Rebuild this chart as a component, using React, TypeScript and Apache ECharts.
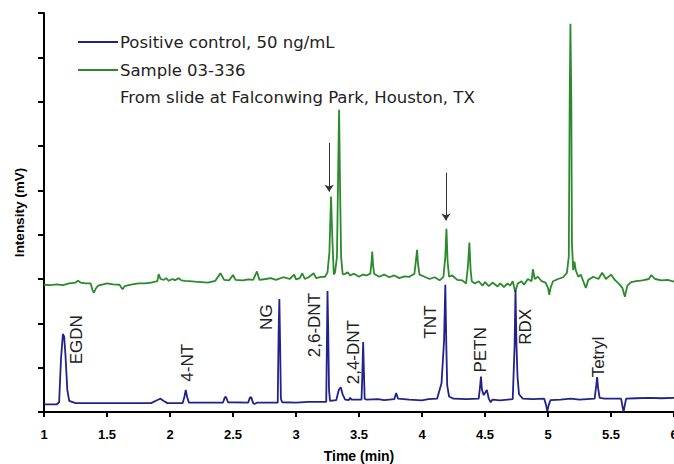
import React, { useEffect, useRef } from "react";
import * as echarts from "echarts";

const xTicks = { min: 1, max: 6, interval: 0.5 };
const yRange = { min: 0, max: 9, interval: 1 };

const seriesNames = ["Positive control, 50 ng/mL", "Sample 03-336"];
const subtitle = "From slide at Falconwing Park, Houston, TX";

// Positive control chromatogram [time (min), intensity]
const controlTrace: number[][] = [
  [1.0, 0.17], [1.1, 0.17], [1.12, 0.22], [1.135, 1.2], [1.15, 1.76], [1.16, 1.7], [1.17, 1.3], [1.185, 0.5], [1.2, 0.25],
  [1.25, 0.2], [1.5, 0.2], [1.85, 0.2], [1.9, 0.27], [1.925, 0.3], [1.95, 0.25], [1.98, 0.2], [2.1, 0.2],
  [2.115, 0.35], [2.125, 0.5], [2.135, 0.35], [2.15, 0.21], [2.42, 0.21], [2.435, 0.33], [2.445, 0.34], [2.46, 0.22],
  [2.62, 0.21], [2.635, 0.33], [2.645, 0.33], [2.66, 0.2], [2.67, 0.18], [2.69, 0.21], [2.855, 0.21], [2.862, 1.8],
  [2.868, 2.55], [2.874, 1.5], [2.88, 0.3], [2.89, 0.22], [3.0, 0.21], [3.1, 0.23], [3.24, 0.23], [3.245, 1.5], [3.25, 2.73],
  [3.256, 1.8], [3.262, 0.5], [3.27, 0.25], [3.32, 0.27], [3.34, 0.5], [3.355, 0.56], [3.37, 0.4], [3.39, 0.28],
  [3.42, 0.27], [3.43, 0.32], [3.44, 0.28], [3.52, 0.28], [3.527, 0.9], [3.533, 1.58], [3.539, 0.9], [3.545, 0.3],
  [3.56, 0.28], [3.65, 0.29], [3.7, 0.27], [3.78, 0.29], [3.795, 0.43], [3.81, 0.3], [3.9, 0.28], [4.0, 0.26], [4.05, 0.29], [4.12, 0.3],
  [4.14, 0.5], [4.155, 0.65], [4.175, 1.6], [4.185, 2.87], [4.193, 1.5], [4.2, 0.6], [4.215, 0.35], [4.25, 0.3],
  [4.35, 0.29], [4.45, 0.3], [4.46, 0.55], [4.468, 0.8], [4.476, 0.5], [4.49, 0.38], [4.505, 0.45], [4.515, 0.5], [4.53, 0.3],
  [4.545, 0.22], [4.56, 0.28], [4.62, 0.26], [4.68, 0.28], [4.72, 0.29], [4.735, 1.5], [4.742, 2.75], [4.75, 1.5], [4.758, 0.8],
  [4.77, 0.4], [4.8, 0.3], [4.88, 0.29], [4.97, 0.3], [4.985, 0.15], [4.995, 0.02], [5.005, 0.15], [5.02, 0.27],
  [5.1, 0.28], [5.18, 0.3], [5.25, 0.28], [5.37, 0.3], [5.383, 0.6], [5.39, 0.79], [5.397, 0.55], [5.41, 0.32],
  [5.45, 0.3], [5.58, 0.3], [5.593, 0.1], [5.6, 0.0], [5.607, 0.12], [5.62, 0.3], [5.7, 0.31], [5.8, 0.32], [5.9, 0.31], [6.0, 0.32],
];

// Sample 03-336 chromatogram [time (min), intensity]
const sampleTrace: number[][] = [
  [1.0, 2.87], [1.05, 2.86], [1.1, 2.88], [1.15, 2.86], [1.2, 2.9], [1.25, 2.92], [1.27, 2.96], [1.29, 2.92],
  [1.33, 2.9], [1.37, 2.9], [1.385, 2.75], [1.396, 2.69], [1.41, 2.78], [1.43, 2.85], [1.47, 2.88], [1.5, 2.9],
  [1.55, 2.88], [1.6, 2.87], [1.615, 2.8], [1.625, 2.77], [1.64, 2.84], [1.7, 2.88], [1.75, 2.9], [1.8, 2.9],
  [1.85, 2.92], [1.9, 2.95], [1.91, 3.11], [1.925, 3.0], [1.95, 2.98], [1.97, 3.02], [1.99, 2.96], [2.02, 3.0],
  [2.04, 2.97], [2.07, 3.02], [2.09, 2.97], [2.12, 2.96], [2.2, 2.94], [2.3, 2.92], [2.36, 2.96], [2.4, 3.13],
  [2.43, 2.98], [2.47, 2.97], [2.5, 3.09], [2.52, 2.98], [2.58, 2.97], [2.62, 2.99], [2.66, 2.98], [2.69, 3.17],
  [2.71, 2.98], [2.76, 3.0], [2.8, 3.02], [2.84, 2.98], [2.9, 3.04], [2.95, 3.0], [2.985, 3.1], [3.0, 2.99],
  [3.03, 3.02], [3.05, 3.13], [3.07, 3.0], [3.1, 3.04], [3.14, 3.13], [3.16, 3.02], [3.2, 3.05], [3.23, 3.05],
  [3.25, 3.15], [3.265, 3.6], [3.278, 4.86], [3.29, 3.8], [3.3, 3.1], [3.31, 3.15], [3.325, 3.5], [3.335, 5.5],
  [3.342, 6.82], [3.35, 5.0], [3.358, 3.5], [3.37, 3.12], [3.38, 3.1], [3.41, 3.15], [3.43, 3.08], [3.46, 3.12],
  [3.5, 3.05], [3.53, 3.1], [3.56, 3.08], [3.59, 3.12], [3.6, 3.4], [3.605, 3.62], [3.612, 3.3], [3.62, 3.12],
  [3.66, 3.05], [3.7, 3.1], [3.74, 3.04], [3.78, 3.08], [3.82, 3.02], [3.86, 3.06], [3.9, 3.05], [3.94, 3.12],
  [3.955, 3.5], [3.961, 3.66], [3.968, 3.35], [3.98, 3.1], [4.02, 3.05], [4.06, 3.0], [4.1, 3.04], [4.14, 2.97],
  [4.17, 3.05], [4.185, 3.5], [4.194, 4.13], [4.203, 3.4], [4.215, 3.05], [4.24, 3.08], [4.28, 2.98], [4.32, 2.97],
  [4.35, 2.9], [4.365, 3.3], [4.376, 3.82], [4.386, 3.2], [4.395, 2.95], [4.42, 2.9], [4.45, 2.95], [4.48, 2.85],
  [4.5, 2.93], [4.53, 2.84], [4.56, 2.92], [4.6, 2.83], [4.62, 2.9], [4.65, 2.82], [4.68, 2.9], [4.7, 2.85],
  [4.72, 2.95], [4.74, 2.71], [4.76, 2.9], [4.79, 2.95], [4.81, 2.87], [4.84, 3.0], [4.87, 2.95], [4.88, 3.22],
  [4.895, 3.0], [4.92, 3.05], [4.95, 2.95], [4.98, 2.92], [5.0, 2.8], [5.01, 2.64], [5.02, 2.8], [5.04, 2.95],
  [5.08, 3.0], [5.12, 3.04], [5.15, 3.14], [5.165, 3.5], [5.172, 7.0], [5.178, 8.76], [5.185, 7.0], [5.19, 3.8],
  [5.2, 3.2], [5.21, 3.39], [5.22, 3.2], [5.24, 3.05], [5.26, 3.1], [5.28, 2.95], [5.3, 2.8], [5.32, 2.98],
  [5.36, 3.05], [5.4, 3.0], [5.43, 3.14], [5.46, 3.0], [5.5, 3.1], [5.53, 2.98], [5.56, 2.9], [5.59, 2.8],
  [5.61, 2.6], [5.63, 2.85], [5.66, 2.93], [5.7, 2.95], [5.75, 2.97], [5.8, 3.0], [5.82, 3.09], [5.85, 3.0],
  [5.9, 2.97], [5.95, 2.98], [6.0, 2.94],
];

// Compound labels: name, time, intensity of label centre
const compoundNames = ["EGDN", "4-NT", "NG", "2,6-DNT", "2,4-DNT", "TNT", "PETN", "RDX", "Tetryl"];
const compoundTimes = [1.261, 2.139, 2.764, 3.144, 3.46, 4.07, 4.465, 4.821, 5.399];
const compoundLevels = [1.63, 1.11, 2.14, 1.96, 1.35, 2.03, 1.4, 1.92, 1.24];

// Arrows pointing at sample peaks: time, from intensity, to intensity
const arrowTimes = [3.263, 4.19];
const arrowFrom = [6.07, 5.4];
const arrowTo = [4.97, 4.32];

export default function App() {
  const ref = useRef<HTMLDivElement>(null);
  useEffect(() => {
    document.body.style.margin = "0";
    if (!ref.current) return;
    const chart = echarts.init(ref.current, null, { renderer: "svg" });
    const labelFont = "Liberation Sans";
    chart.setOption({
      animation: false,
      backgroundColor: "#fff",
      grid: { left: 44, top: 13, right: 0, bottom: 52, containLabel: false, outerBoundsMode: "none" },
      legend: {
        data: seriesNames,
        orient: "vertical",
        left: 78,
        top: 32,
        padding: 0,
        itemWidth: 40,
        itemHeight: 2,
        itemGap: 8,
        icon: "rect",
        textStyle: { fontFamily: "DejaVu Sans", fontSize: 16.5, color: "#222", lineHeight: 20, padding: [0, 0, 0, -3] },
      },
      graphic: [
        {
          type: "text",
          left: 120,
          top: 89,
          style: { text: subtitle, font: "16.5px 'DejaVu Sans'", fill: "#222" },
        },
      ],
      xAxis: {
        type: "value",
        min: xTicks.min,
        max: xTicks.max,
        interval: xTicks.interval,
        name: "Time (min)",
        nameLocation: "middle",
        nameGap: 37,
        nameTextStyle: { fontFamily: labelFont, fontWeight: "bold", fontSize: 14, color: "#000" },
        axisLine: { lineStyle: { color: "#000", width: 2 } },
        axisTick: { show: true, length: 5, lineStyle: { color: "#000", width: 2 } },
        axisLabel: { fontFamily: labelFont, fontWeight: "bold", fontSize: 13, color: "#000", margin: 16, showMaxLabel: true },
        splitLine: { show: false },
      },
      yAxis: {
        type: "value",
        min: yRange.min,
        max: yRange.max,
        interval: yRange.interval,
        name: "Intensity (mV)",
        nameLocation: "middle",
        nameRotate: 90,
        nameGap: 18,
        nameTextStyle: { fontFamily: labelFont, fontWeight: "bold", fontSize: 13.5, color: "#000" },
        axisLine: { show: true, lineStyle: { color: "#000", width: 2 } },
        axisTick: { show: true, length: 6, lineStyle: { color: "#000", width: 2 } },
        axisLabel: { show: false },
        splitLine: { show: false },
      },
      series: [
        {
          name: seriesNames[0],
          type: "line",
          data: controlTrace,
          showSymbol: false,
          symbol: "none",
          lineStyle: { color: "#22228c", width: 1.8 },
          itemStyle: { color: "#22228c" },
          z: 3,
          markPoint: {
            symbol: "circle",
            symbolSize: 1,
            itemStyle: { color: "rgba(0,0,0,0)" },
            label: {
              show: true,
              position: "inside",
              rotate: 90,
              formatter: "{b}",
              fontFamily: labelFont,
              fontSize: 17,
              color: "#222",
            },
            data: compoundNames.map((n, i) => ({ name: n, coord: [compoundTimes[i], compoundLevels[i]] })),
          },
        },
        {
          name: seriesNames[1],
          type: "line",
          data: sampleTrace,
          showSymbol: false,
          symbol: "none",
          lineStyle: { color: "#2b8a2b", width: 1.8 },
          itemStyle: { color: "#2b8a2b" },
          z: 2,
          markLine: {
            silent: true,
            symbol: ["none", "arrow"],
            symbolSize: 7,
            label: { show: false },
            lineStyle: { color: "#333", width: 1, type: "solid" },
            itemStyle: { color: "#222" },
            data: arrowTimes.map((t, i) => [{ coord: [t, arrowFrom[i]] }, { coord: [t, arrowTo[i]] }]),
          },
        },
      ],
    });
    return () => chart.dispose();
  }, []);
  return <div ref={ref} style={{ width: 674, height: 464 }} />;
}
